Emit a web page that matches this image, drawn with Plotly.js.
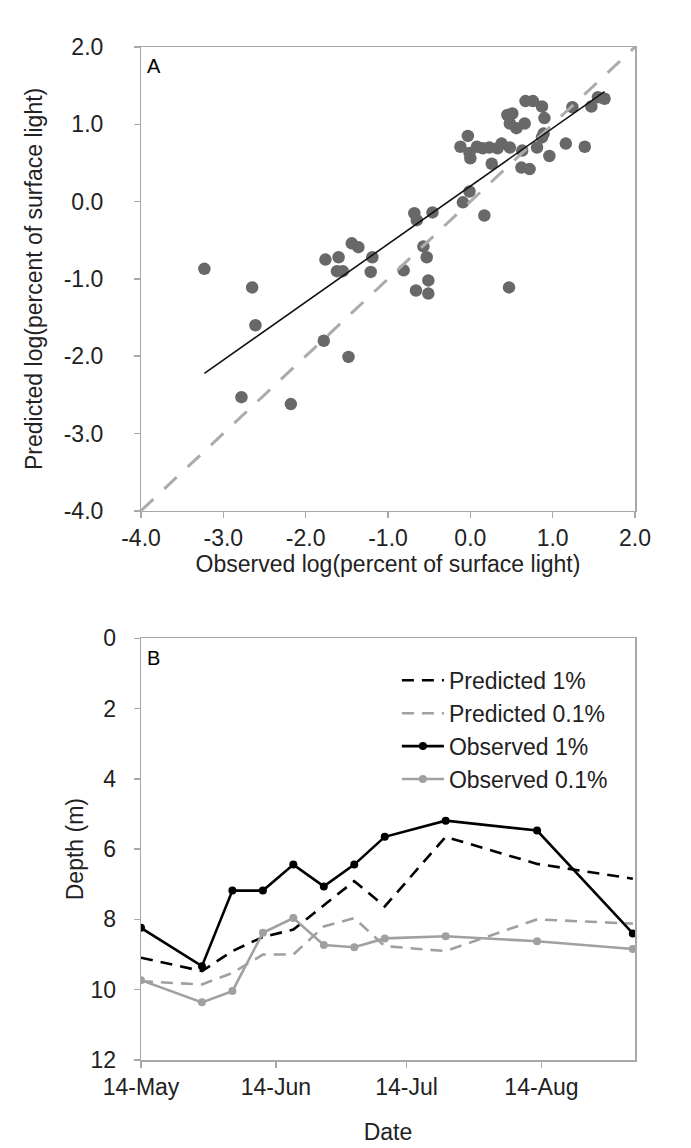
<!DOCTYPE html>
<html>
<head>
<meta charset="utf-8">
<script src="https://cdn.plot.ly/plotly-3.0.1.min.js"></script>
<style>html,body{margin:0;padding:0;background:#fff;}#chart{width:691px;height:1148px;}</style>
</head>
<body>
<div id="chart"></div>
<script>
// ---- Panel A data: observed vs predicted log(percent of surface light)
const observedLog = [-3.23,-2.65,-2.61,-1.78,-1.48,-2.78,-2.18,-1.76,-1.60,-1.62,-1.55,-1.44,-1.36,-1.19,-1.21,-0.81,
  -0.57,-0.53,-0.51,-0.66,-0.51,0.47,-0.68,-0.65,-0.46,0.17,-0.09,-0.01,-0.12,-0.03,0.00,-0.01,0.08,0.15,0.26,0.23,
  0.33,0.38,0.48,0.45,0.51,0.48,0.56,0.66,0.63,0.62,0.72,0.67,0.76,0.87,0.90,0.81,0.87,0.89,0.96,1.16,1.39,1.24,1.47,1.55,1.63];
const predictedLog = [-0.87,-1.11,-1.60,-1.80,-2.01,-2.53,-2.62,-0.75,-0.72,-0.90,-0.90,-0.54,-0.59,-0.72,-0.91,-0.89,
  -0.58,-0.72,-1.02,-1.15,-1.19,-1.11,-0.15,-0.24,-0.14,-0.18,-0.01,0.13,0.71,0.85,0.56,0.63,0.71,0.69,0.49,0.70,
  0.69,0.75,0.70,1.12,1.14,1.01,0.95,1.01,0.66,0.44,0.42,1.30,1.30,1.23,1.08,0.70,0.83,0.88,0.59,0.75,0.71,1.22,1.23,1.35,1.33];
const fitSlope = 0.75;
const fitIntercept = 0.20;
const axisATicks = [-4,-3,-2,-1,0,1,2];
const axisATickText = ['-4.0','-3.0','-2.0','-1.0','0.0','1.0','2.0'];

// ---- Panel B data: depth of 1% and 0.1% light
const dates = ['2011-05-14','2011-05-28','2011-06-04','2011-06-11','2011-06-18','2011-06-25','2011-07-02','2011-07-09','2011-07-23','2011-08-13','2011-09-04'];
const predicted1 = [9.09,9.47,8.90,8.50,8.29,7.60,6.91,7.63,5.65,6.42,6.84];
const predicted01 = [9.76,9.85,9.52,9.00,9.00,8.20,7.96,8.76,8.90,8.00,8.12];
const observed1 = [8.24,9.33,7.18,7.18,6.44,7.06,6.44,5.65,5.19,5.47,8.40];
const observed01 = [9.73,10.36,10.04,8.38,7.96,8.73,8.79,8.54,8.48,8.62,8.84];
const dateTicks = ['2011-05-14','2011-06-14','2011-07-14','2011-08-14'];
const dateTickText = ['14-May','14-Jun','14-Jul','14-Aug'];
const depthTicks = [0,2,4,6,8,10,12];
const depthTickText = ['0','2','4','6','8','10','12'];

const FONT = 'Arial, "Liberation Sans", sans-serif';
const FS = 23;
const NB = '\u00a0';
const fitX = [Math.min(...observedLog), Math.max(...observedLog)];
const fitY = fitX.map(v => fitSlope*v + fitIntercept);

const traces = [
  {x: observedLog, y: predictedLog, mode:'markers', type:'scatter', xaxis:'x', yaxis:'y', showlegend:false,
   marker:{color:'#686868', size:12.5}},
  {x: [axisATicks[0], axisATicks[axisATicks.length-1]], y: [axisATicks[0], axisATicks[axisATicks.length-1]],
   mode:'lines', xaxis:'x', yaxis:'y', showlegend:false, line:{color:'#ababab', width:3, dash:'17px,15px'}},
  {x: fitX, y: fitY, mode:'lines', xaxis:'x', yaxis:'y', showlegend:false, line:{color:'#111', width:1.6}},
  {x: dates, y: predicted1, name:'Predicted 1%', mode:'lines', xaxis:'x2', yaxis:'y2',
   line:{color:'#000', width:2.6, dash:'12px,8px'}},
  {x: dates, y: predicted01, name:'Predicted 0.1%', mode:'lines', xaxis:'x2', yaxis:'y2',
   line:{color:'#a0a0a0', width:2.6, dash:'12px,8px'}},
  {x: dates, y: observed1, name:'Observed 1%', mode:'lines+markers', xaxis:'x2', yaxis:'y2',
   line:{color:'#000', width:2.6}, marker:{color:'#000', size:8}},
  {x: dates, y: observed01, name:'Observed 0.1%', mode:'lines+markers', xaxis:'x2', yaxis:'y2',
   line:{color:'#a0a0a0', width:2.6}, marker:{color:'#a0a0a0', size:8}}
];

const axCommon = {showline:true, linecolor:'#a8a8a8', linewidth:1.5, mirror:true, ticks:'outside', ticklen:6,
  tickcolor:'#a8a8a8', tickwidth:1.5, showgrid:false, zeroline:false, tickfont:{family:FONT, size:FS, color:'#222'}};
const titleFont = {family:FONT, size:FS, color:'#222'};

const layout = {
  width:691, height:1148, paper_bgcolor:'#fff', plot_bgcolor:'#fff',
  margin:{l:141, r:56, t:47, b:88},
  font:{family:FONT, color:'#222'},
  xaxis: Object.assign({}, axCommon, {domain:[0,1], anchor:'y', range:[-4,2], tickvals:axisATicks, ticktext:axisATickText,
    title:{text:'Observed log(percent of surface light)', font:titleFont, standoff:6}}),
  yaxis: Object.assign({}, axCommon, {domain:[0.5422,1], anchor:'x', range:[-4,2], tickvals:axisATicks,
    ticktext:axisATickText.map(t => t + NB.repeat(4)),
    title:{text:'Predicted log(percent of surface light)', font:titleFont, standoff:14}}),
  xaxis2: Object.assign({}, axCommon, {domain:[0,1], anchor:'y2', type:'date', range:['2011-05-14','2011-09-04 12:00'],
    tickvals:dateTicks, ticktext:dateTickText,
    title:{text:'Date', font:titleFont, standoff:25}}),
  yaxis2: Object.assign({}, axCommon, {domain:[0,0.4163], anchor:'x2', range:[12,0], tickvals:depthTicks,
    ticktext:depthTickText.map(t => t + NB.repeat(2)),
    title:{text:'Depth (m)', font:titleFont, standoff:0}}),
  legend:{x:0.518, y:0.396, xanchor:'left', yanchor:'top', bgcolor:'rgba(0,0,0,0)', itemwidth:42,
    font:{family:FONT, size:FS, color:'#222'}, tracegroupgap:0},
  annotations:[
    {text:'A', xref:'x domain', yref:'y domain', x:0.008, y:0.96, xanchor:'left', yanchor:'middle', showarrow:false,
     font:{family:FONT, size:20, color:'#000'}},
    {text:'B', xref:'x2 domain', yref:'y2 domain', x:0.008, y:0.953, xanchor:'left', yanchor:'middle', showarrow:false,
     font:{family:FONT, size:20, color:'#000'}}
  ]
};

Plotly.newPlot('chart', traces, layout, {displayModeBar:false, staticPlot:true});
</script>
</body>
</html>
